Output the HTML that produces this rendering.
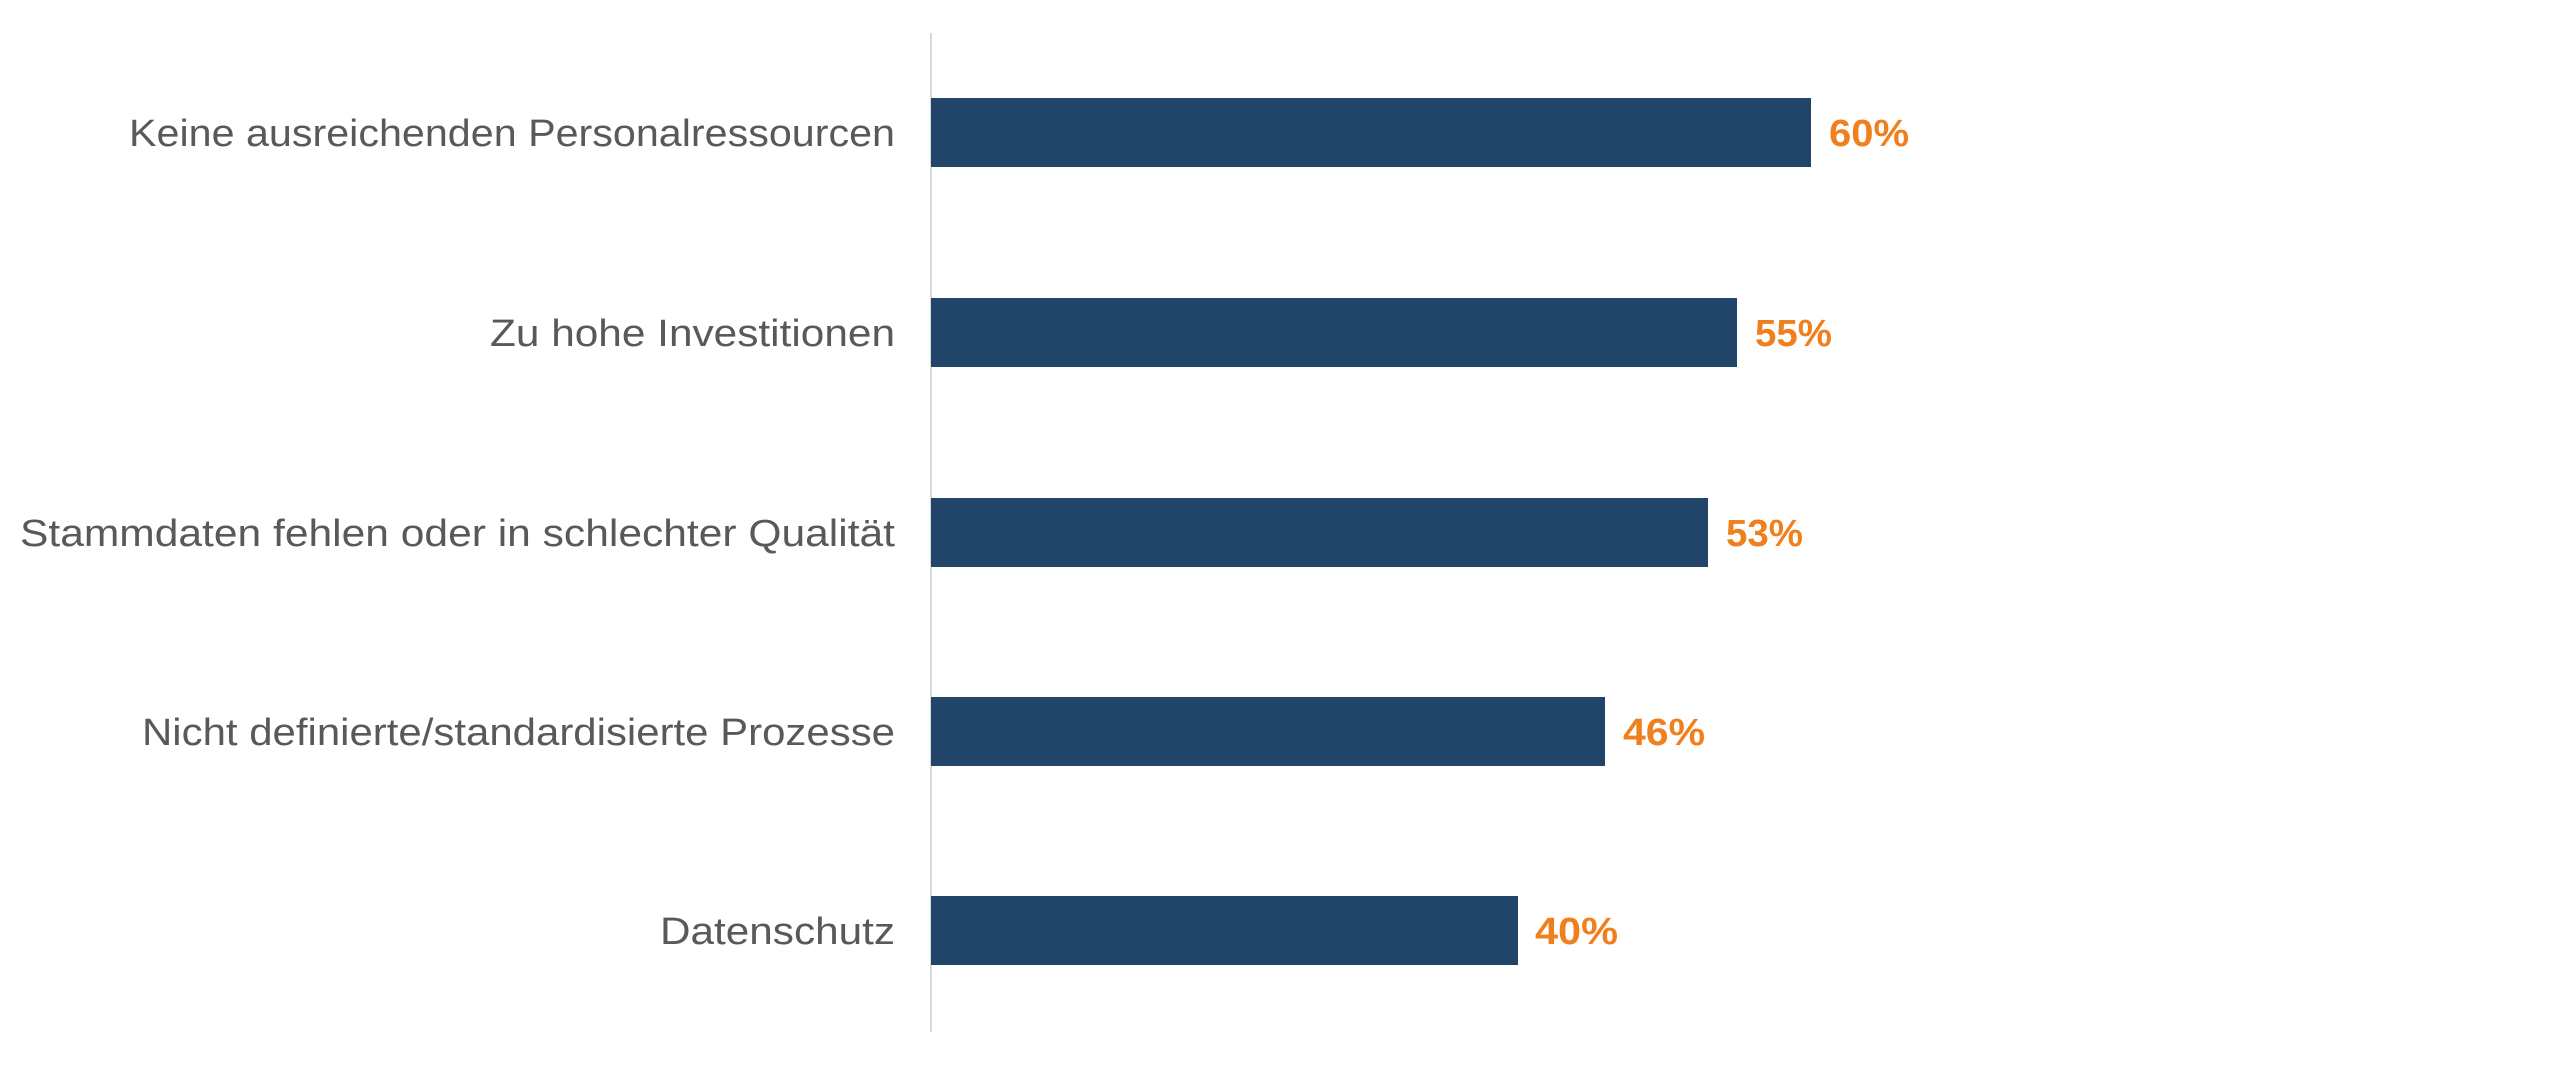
<!DOCTYPE html>
<html><head><meta charset="utf-8"><style>html,body{margin:0;padding:0;background:#fff}svg{display:block}</style></head>
<body>
<svg width="2560" height="1065" viewBox="0 0 2560 1065" xmlns="http://www.w3.org/2000/svg">
<line x1="931" y1="33" x2="931" y2="1032" stroke="#d9d9d9" stroke-width="2"/>
<g fill="#214469">
<rect x="931" y="98" width="880" height="69"/>
<rect x="931" y="298" width="806" height="69"/>
<rect x="931" y="498" width="777" height="69"/>
<rect x="931" y="697" width="674" height="69"/>
<rect x="931" y="896" width="587" height="69"/>
</g>
<g font-family="Liberation Sans, sans-serif" font-size="38" fill="#595959" text-anchor="end">
<text x="895" y="146" textLength="766" lengthAdjust="spacingAndGlyphs">Keine ausreichenden Personalressourcen</text>
<text x="895" y="346" textLength="405" lengthAdjust="spacingAndGlyphs">Zu hohe Investitionen</text>
<text x="895" y="546" textLength="875" lengthAdjust="spacingAndGlyphs">Stammdaten fehlen oder in schlechter Qualität</text>
<text x="895" y="745" textLength="753" lengthAdjust="spacingAndGlyphs">Nicht definierte/standardisierte Prozesse</text>
<text x="895" y="944" textLength="235" lengthAdjust="spacingAndGlyphs">Datenschutz</text>
</g>
<g font-family="Liberation Sans, sans-serif" font-size="38" font-weight="bold" fill="#f07f1e">
<text x="1829" y="146" textLength="80" lengthAdjust="spacingAndGlyphs">60%</text>
<text x="1755" y="346" textLength="77" lengthAdjust="spacingAndGlyphs">55%</text>
<text x="1726" y="546" textLength="77" lengthAdjust="spacingAndGlyphs">53%</text>
<text x="1623" y="745" textLength="82" lengthAdjust="spacingAndGlyphs">46%</text>
<text x="1535" y="944" textLength="83" lengthAdjust="spacingAndGlyphs">40%</text>
</g>
</svg>
</body></html>
